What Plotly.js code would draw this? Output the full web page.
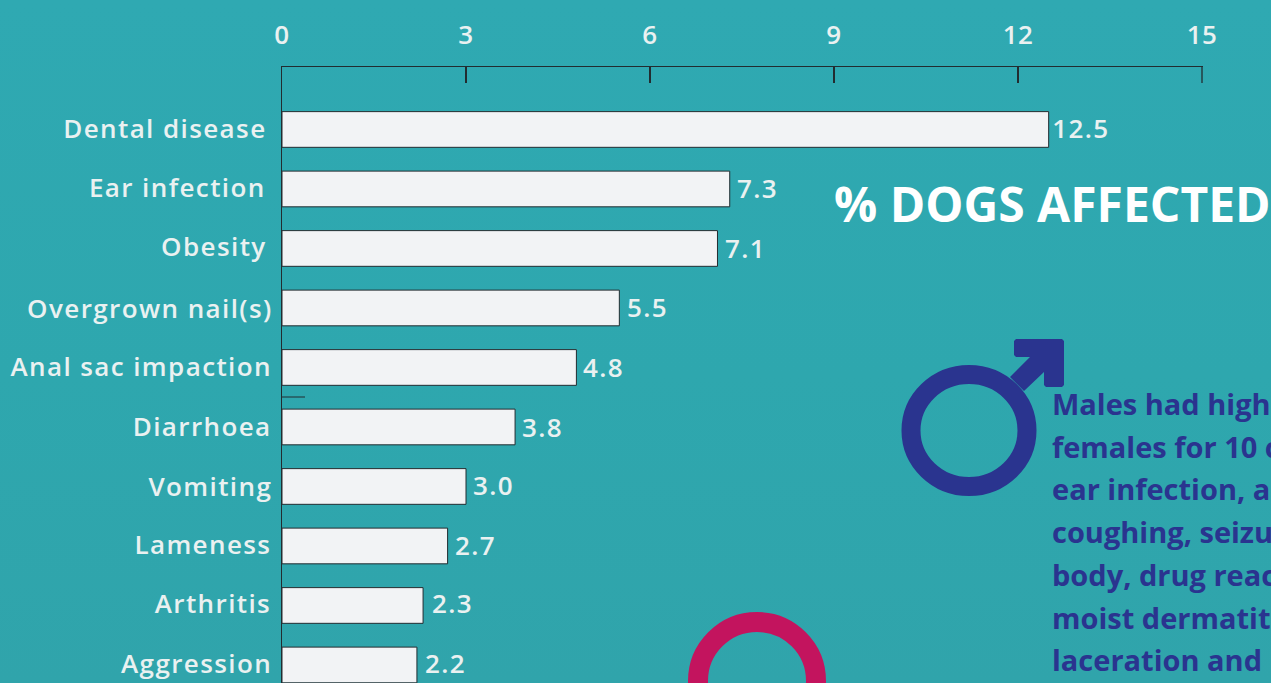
<!DOCTYPE html>
<html>
<head>
<meta charset="utf-8">
<script src="https://cdn.plot.ly/plotly-3.0.1.min.js"></script>
<style>
html,body{margin:0;padding:0;width:1271px;height:683px;overflow:hidden;background:linear-gradient(180deg,#2fa9b2 0%,#2ea7ae 55%,#30a4ab 100%);}
#chart{width:1271px;height:683px;}
.xtick text{letter-spacing:.5px;}
</style>
</head>
<body>
<div id="chart"></div>
<script>
const categories = ["Dental disease","Ear infection","Obesity","Overgrown nail(s)","Anal sac impaction","Diarrhoea","Vomiting","Lameness","Arthritis","Aggression"];
const values = [12.5,7.3,7.1,5.5,4.8,3.8,3.0,2.7,2.3,2.2];
const valueLabels = ["12.5","7.3","7.1","5.5","4.8","3.8","3.0","2.7","2.3","2.2"];
const xTicks = [0,3,6,9,12,15];
const headline = "% DOGS AFFECTED";
const maleLines = ["Males had high","females for 10 c","ear infection, a","coughing, seizu","body, drug reac","moist dermatit","laceration and"];

// label nudges in pixels, as placed in the reference
const labelRight = [266,266,266,272,271,271,272,271,271,271];
const labelDy = [-1,-1.5,-2,0,-1.5,-1,0,-1.5,-2,-1.5];
const valueGap = [4,7.5,7.5,8,7,7,7,7.5,9,8];
const valueDy = [-1,-0.5,0,-1,-0.5,0,-1,-0.5,-2,-1.5];
const SPACING = 1.4;

const W=1271,H=683,L=282,R=68,T=67,B=0;
const px = x => (x-L)/(W-L-R);
const py = y => 1-(y-T)/(H-T-B);
const pathOf = pts => pts.map((p,i)=>(i?'L':'M')+px(p[0]).toFixed(5)+' '+py(p[1]).toFixed(5)).join(' ')+' Z';
const MALE="#2a348f", FEMALE="#c3145e", LABEL="#eaf1f1", INK="#222c30";

const annotations=[];
annotations.push({xref:'paper',yref:'paper',x:px(832),y:py(203.5),xanchor:'left',yanchor:'middle',text:headline,showarrow:false,
  font:{family:'"Open Sans"',size:48,color:'#ffffff',weight:700}});
maleLines.forEach((t,i)=>annotations.push({xref:'paper',yref:'paper',x:px(1050),y:py(403.5+i*42.7),xanchor:'left',yanchor:'middle',text:t,showarrow:false,
  font:{family:'"Open Sans"',size:29,color:MALE,weight:700}}));
const plainCount=annotations.length;
categories.forEach((c,i)=>annotations.push({xref:'paper',yref:'y',x:px(labelRight[i]),y:i,
  xshift:-(SPACING*c.length/2)+2.5,yshift:-labelDy[i],xanchor:'right',yanchor:'middle',text:c,showarrow:false,
  font:{family:'"Open Sans"',size:26,color:LABEL,weight:600}}));
values.forEach((v,i)=>annotations.push({xref:'x',yref:'y',x:v,y:i,xshift:valueGap[i],yshift:-valueDy[i],xanchor:'left',yanchor:'middle',text:valueLabels[i],showarrow:false,
  font:{family:'"Open Sans"',size:26,color:LABEL,weight:600}}));

let css=`.annotation text{letter-spacing:${SPACING}px;}`;
for(let i=0;i<plainCount;i++) css+=`.annotation[data-index="${i}"] text{letter-spacing:0;}`;
const st=document.createElement('style'); st.textContent=css; document.head.appendChild(st);

const shapes=[
  {type:'line',xref:'x',yref:'paper',x0:xTicks[xTicks.length-1],x1:xTicks[xTicks.length-1],y0:py(67),y1:py(83),line:{color:INK,width:1.3}},
  {type:'line',xref:'paper',yref:'paper',x0:px(282),x1:px(305),y0:py(397),y1:py(397),line:{color:INK,width:1}},
  {type:'circle',xref:'paper',yref:'paper',x0:px(911),x1:px(1027),y0:py(374.5),y1:py(486.5),line:{color:MALE,width:19},fillcolor:'rgba(0,0,0,0)'},
  {type:'path',xref:'paper',yref:'paper',path:pathOf([[1010,377],[1030,357],[1016,357],[1014,355],[1014,341],[1016,339],[1062,339],[1064,341],[1064,385],[1062,387],[1046,387],[1044,385],[1044,372],[1024,391]]),fillcolor:MALE,line:{width:0}},
  {type:'circle',xref:'paper',yref:'paper',x0:px(698),x1:px(816),y0:py(622),y1:py(740),line:{color:FEMALE,width:20},fillcolor:'rgba(0,0,0,0)'}
];

Plotly.newPlot('chart',[{
  type:'bar',orientation:'h',x:values,y:categories,width:0.6,
  marker:{color:'#f2f3f5',line:{color:'#222c30',width:1}},
  hoverinfo:'x+y'
}],{
  width:W,height:H,
  margin:{l:L,r:R,t:T,b:B,pad:0},
  paper_bgcolor:'rgba(0,0,0,0)',plot_bgcolor:'rgba(0,0,0,0)',
  showlegend:false,
  xaxis:{side:'top',range:[0,15.0163],tickmode:'array',tickvals:xTicks,ticktext:xTicks.map(String),ticks:'inside',ticklen:16,tickwidth:1.3,tickcolor:INK,
    showline:true,linecolor:INK,linewidth:1.3,showgrid:false,zeroline:false,ticklabelstandoff:11,
    tickfont:{family:'"Open Sans"',size:26,color:LABEL,weight:600}},
  yaxis:{type:'category',categoryorder:'array',categoryarray:categories,range:[9.303,-1.05],autorange:false,showticklabels:false,ticks:'',
    showline:true,linecolor:INK,linewidth:1.3,showgrid:false,zeroline:false},
  annotations,shapes
},{displayModeBar:false,staticPlot:true});
</script>
</body>
</html>
